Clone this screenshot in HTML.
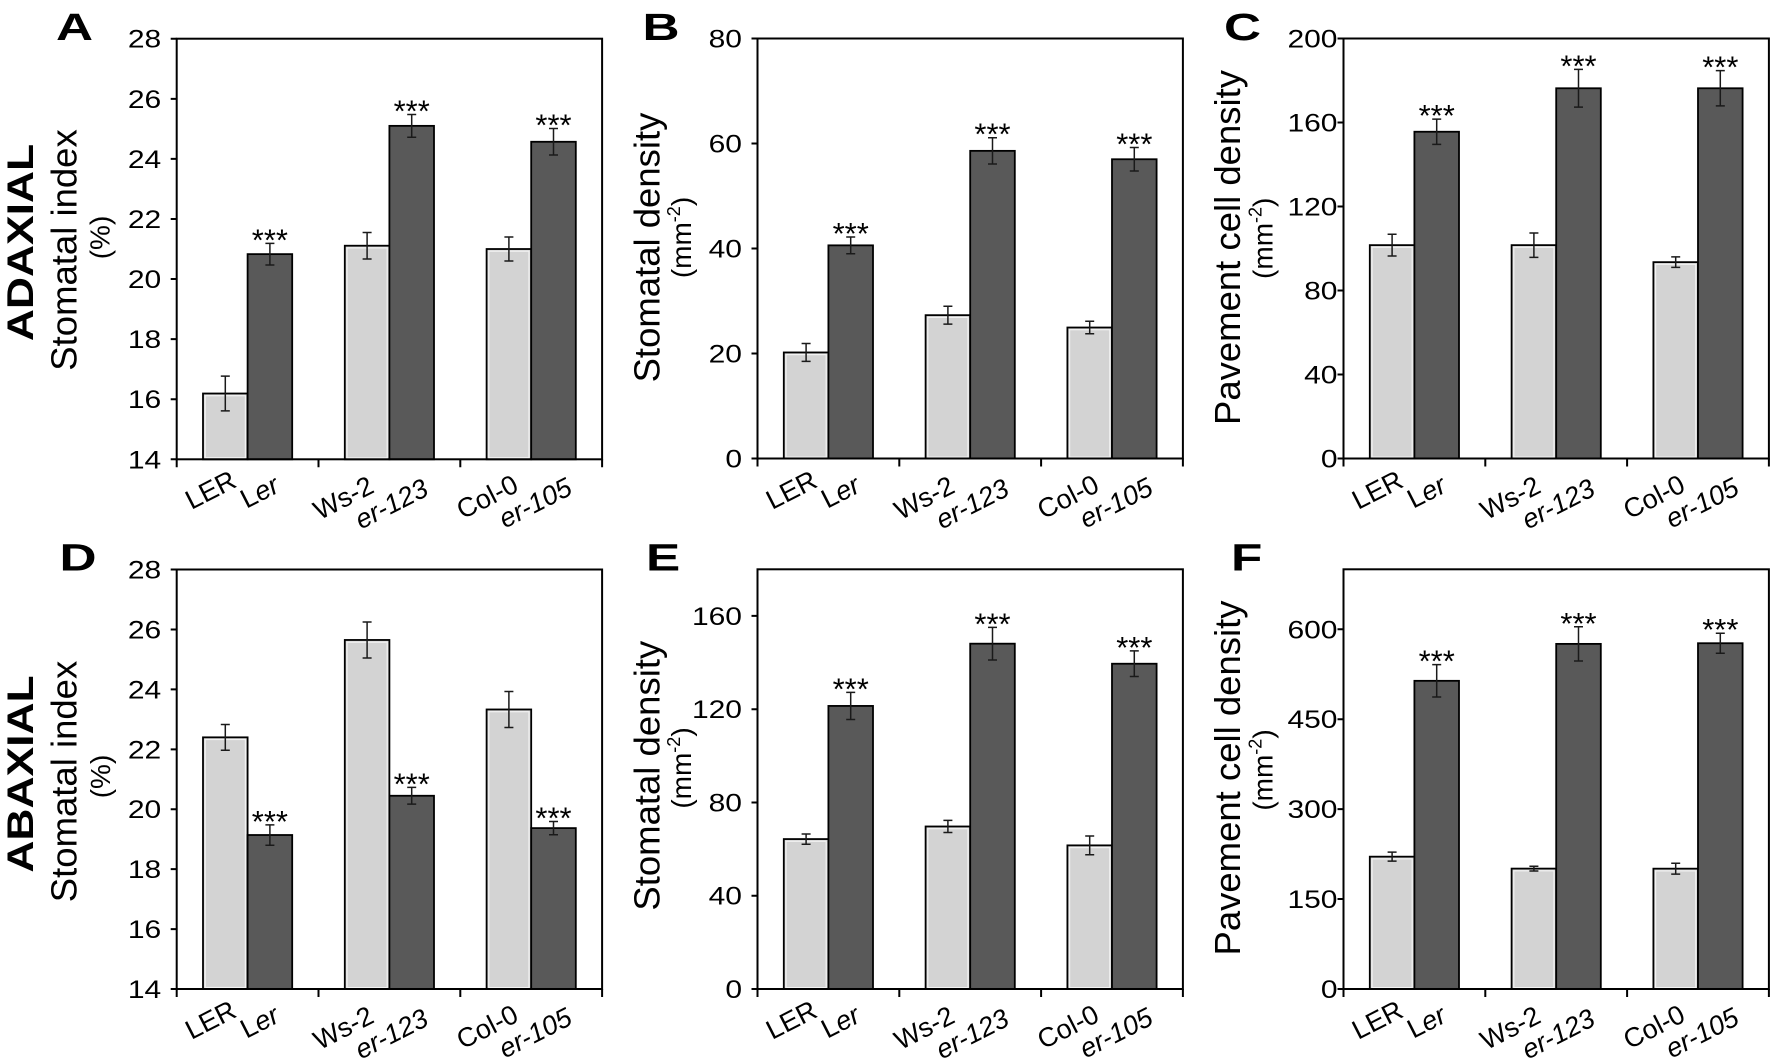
<!DOCTYPE html>
<html>
<head>
<meta charset="utf-8">
<style>
html,body{margin:0;padding:0;background:#fff;}
svg{display:block;}
text{font-family:"Liberation Sans",Arial,Helvetica,sans-serif;fill:#000;}
.tk{font-size:25px;text-anchor:end;}
.tt{font-size:36.5px;text-anchor:middle;}
.un{font-size:28px;text-anchor:middle;}
.side{font-size:37px;font-weight:bold;text-anchor:middle;}
.let{font-size:38px;font-weight:bold;}
.st{font-size:31px;text-anchor:middle;}
.xl{font-size:27px;text-anchor:middle;}
.lb{fill:#d3d3d3;stroke:#000;stroke-width:1.8;}
.db{fill:#595959;stroke:#000;stroke-width:1.8;}
.hl{fill:none;stroke:#f2f2f2;stroke-width:1.2;}
.fr{fill:none;stroke:#000;stroke-width:2;}
.ax{stroke:#000;stroke-width:2;}
.eb{stroke:#1a1a1a;stroke-width:1.5;fill:none;}
</style>
</head>
<body>
<svg width="1772" height="1059" viewBox="0 0 1772 1059" xmlns="http://www.w3.org/2000/svg">
<rect x="0" y="0" width="1772" height="1059" fill="#fff"/>

<!-- side labels -->
<text class="side" transform="translate(33,242.5) rotate(-90) scale(1.2,1)">ADAXIAL</text>
<text class="side" transform="translate(33,774) rotate(-90) scale(1.2,1)">ABAXIAL</text>

<!-- ================= PANEL A ================= -->
<g transform="translate(176.7,0)">
<text class="let" transform="translate(-120.7,40) scale(1.35,1)">A</text>
<text class="tt" transform="translate(-100.2,250) rotate(-90)">Stomatal index</text>
<text class="un" transform="translate(-67.2,237.5) rotate(-90)">(%)</text>
<rect class="lb" x="26.3" y="393.51" width="44.6" height="65.79"/>
<rect class="hl" x="28.5" y="395.7" width="40.2" height="62"/>
<rect class="db" x="70.9" y="254.13" width="44.6" height="205.17"/>
<rect class="lb" x="168.1" y="245.72" width="44.6" height="213.58"/>
<rect class="hl" x="170.3" y="247.9" width="40.2" height="210"/>
<rect class="db" x="212.7" y="125.86" width="44.6" height="333.44"/>
<rect class="lb" x="309.9" y="249.02" width="44.6" height="210.28"/>
<rect class="hl" x="312.1" y="251.2" width="40.2" height="206.5"/>
<rect class="db" x="354.5" y="141.78" width="44.6" height="317.52"/>
<rect class="fr" x="0" y="38.7" width="425.4" height="420.6"/>
<path class="ax" d="M-6,459.3H0M-6,399.22H0M-6,339.14H0M-6,279.06H0M-6,218.98H0M-6,158.9H0M-6,98.82H0M-6,38.74H0M0,459.3V467.3M141.8,459.3V467.3M283.6,459.3V467.3M425.4,459.3V467.3"/>
<path class="eb" d="M48.6,376.09V410.93M44.1,376.09H53.1M44.1,410.93H53.1
M93.2,243.32V264.94M88.7,243.32H97.7M88.7,264.94H97.7
M190.4,232.5V258.94M185.9,232.5H194.9M185.9,258.94H194.9
M235,114.44V137.28M230.5,114.44H239.5M230.5,137.28H239.5
M332.2,237V261.04M327.7,237H336.7M327.7,261.04H336.7
M376.8,128.56V155M372.3,128.56H381.3M372.3,155H381.3"/>
<text class="st" x="93.2" y="250.3">***</text>
<text class="st" x="235" y="121.4">***</text>
<text class="st" x="376.8" y="135.6">***</text>
<text class="tk" transform="translate(-15.5,468.3) scale(1.2,1)">14</text>
<text class="tk" transform="translate(-15.5,408.22) scale(1.2,1)">16</text>
<text class="tk" transform="translate(-15.5,348.14) scale(1.2,1)">18</text>
<text class="tk" transform="translate(-15.5,288.06) scale(1.2,1)">20</text>
<text class="tk" transform="translate(-15.5,227.98) scale(1.2,1)">22</text>
<text class="tk" transform="translate(-15.5,167.9) scale(1.2,1)">24</text>
<text class="tk" transform="translate(-15.5,107.82) scale(1.2,1)">26</text>
<text class="tk" transform="translate(-15.5,47.74) scale(1.2,1)">28</text>
<text class="xl" transform="translate(34,490) rotate(-27)" dy="9">LER</text>
<text class="xl" transform="translate(83,492) rotate(-27)" dy="9">L<tspan font-style="italic">er</tspan></text>
<text class="xl" transform="translate(166.8,498) rotate(-27)" dy="9">Ws-2</text>
<text class="xl" transform="translate(214.8,504) rotate(-27)" dy="9" font-style="italic">er-123</text>
<text class="xl" transform="translate(310.6,497) rotate(-27)" dy="9">Col-0</text>
<text class="xl" transform="translate(358.6,503) rotate(-27)" dy="9" font-style="italic">er-105</text>
</g>

<!-- ================= PANEL B ================= -->
<g transform="translate(757.5,0)">
<text class="let" transform="translate(-115,40) scale(1.35,1)">B</text>
<text class="tt" transform="translate(-98,247.5) rotate(-90)">Stomatal density</text>
<text class="un" transform="translate(-66.5,237.5) rotate(-90)">(mm<tspan font-size="18" dy="-11">-2</tspan><tspan dy="11">)</tspan></text>
<rect class="lb" x="26.3" y="352.45" width="44.6" height="106.05"/>
<rect class="hl" x="28.5" y="354.6" width="40.2" height="102.5"/>
<rect class="db" x="70.9" y="245.35" width="44.6" height="213.15"/>
<rect class="lb" x="168.1" y="315.17" width="44.6" height="143.33"/>
<rect class="hl" x="170.3" y="317.4" width="40.2" height="139.7"/>
<rect class="db" x="212.7" y="150.85" width="44.6" height="307.65"/>
<rect class="lb" x="309.9" y="327.51" width="44.6" height="130.99"/>
<rect class="hl" x="312.1" y="329.7" width="40.2" height="127.4"/>
<rect class="db" x="354.5" y="159.25" width="44.6" height="299.25"/>
<rect class="fr" x="0" y="38.5" width="425.4" height="420"/>
<path class="ax" d="M-6,458.5H0M-6,353.5H0M-6,248.5H0M-6,143.5H0M-6,38.5H0M0,458.5V466.5M141.8,458.5V466.5M283.6,458.5V466.5M425.4,458.5V466.5"/>
<path class="eb" d="M48.6,343.52V361.38M44.1,343.52H53.1M44.1,361.38H53.1
M93.2,236.95V253.75M88.7,236.95H97.7M88.7,253.75H97.7
M190.4,306.24V324.1M185.9,306.24H194.9M185.9,324.1H194.9
M235,137.72V163.98M230.5,137.72H239.5M230.5,163.98H239.5
M332.2,321.21V333.81M327.7,321.21H336.7M327.7,333.81H336.7
M376.8,147.44V171.06M372.3,147.44H381.3M372.3,171.06H381.3"/>
<text class="st" x="93.2" y="243.95">***</text>
<text class="st" x="235" y="144.7">***</text>
<text class="st" x="376.8" y="154.4">***</text>
<text class="tk" transform="translate(-15.5,467.5) scale(1.2,1)">0</text>
<text class="tk" transform="translate(-15.5,362.5) scale(1.2,1)">20</text>
<text class="tk" transform="translate(-15.5,257.5) scale(1.2,1)">40</text>
<text class="tk" transform="translate(-15.5,152.5) scale(1.2,1)">60</text>
<text class="tk" transform="translate(-15.5,47.5) scale(1.2,1)">80</text>
<text class="xl" transform="translate(34,490) rotate(-27)" dy="9">LER</text>
<text class="xl" transform="translate(83,492) rotate(-27)" dy="9">L<tspan font-style="italic">er</tspan></text>
<text class="xl" transform="translate(166.8,498) rotate(-27)" dy="9">Ws-2</text>
<text class="xl" transform="translate(214.8,504) rotate(-27)" dy="9" font-style="italic">er-123</text>
<text class="xl" transform="translate(310.6,497) rotate(-27)" dy="9">Col-0</text>
<text class="xl" transform="translate(358.6,503) rotate(-27)" dy="9" font-style="italic">er-105</text>
</g>

<!-- ================= PANEL C ================= -->
<g transform="translate(1343.5,0)">
<text class="let" transform="translate(-119.5,40) scale(1.35,1)">C</text>
<text class="tt" transform="translate(-103.5,247.5) rotate(-90)">Pavement cell density</text>
<text class="un" transform="translate(-71,238.3) rotate(-90)">(mm<tspan font-size="18" dy="-11">-2</tspan><tspan dy="11">)</tspan></text>
<rect class="lb" x="26.3" y="245.14" width="44.6" height="213.36"/>
<rect class="hl" x="28.5" y="247.3" width="40.2" height="209.8"/>
<rect class="db" x="70.9" y="131.74" width="44.6" height="326.76"/>
<rect class="lb" x="168.1" y="245.14" width="44.6" height="213.36"/>
<rect class="hl" x="170.3" y="247.3" width="40.2" height="209.8"/>
<rect class="db" x="212.7" y="88.27" width="44.6" height="370.23"/>
<rect class="lb" x="309.9" y="262.15" width="44.6" height="196.35"/>
<rect class="hl" x="312.1" y="264.3" width="40.2" height="192.8"/>
<rect class="db" x="354.5" y="88.27" width="44.6" height="370.23"/>
<rect class="fr" x="0" y="38.5" width="425.4" height="420"/>
<path class="ax" d="M-6,458.5H0M-6,374.5H0M-6,290.5H0M-6,206.5H0M-6,122.5H0M-6,38.5H0M0,458.5V466.5M141.8,458.5V466.5M283.6,458.5V466.5M425.4,458.5V466.5"/>
<path class="eb" d="M48.6,234.22V256.06M44.1,234.22H53.1M44.1,256.06H53.1
M93.2,119.14V144.34M88.7,119.14H97.7M88.7,144.34H97.7
M190.4,232.96V257.32M185.9,232.96H194.9M185.9,257.32H194.9
M235,69.37V107.17M230.5,69.37H239.5M230.5,107.17H239.5
M332.2,256.9V267.4M327.7,256.9H336.7M327.7,267.4H336.7
M376.8,70.63V105.91M372.3,70.63H381.3M372.3,105.91H381.3"/>
<text class="st" x="93.2" y="126.1">***</text>
<text class="st" x="235" y="76.4">***</text>
<text class="st" x="376.8" y="77.6">***</text>
<text class="tk" transform="translate(-6,467.5) scale(1.2,1)">0</text>
<text class="tk" transform="translate(-6,383.5) scale(1.2,1)">40</text>
<text class="tk" transform="translate(-6,299.5) scale(1.2,1)">80</text>
<text class="tk" transform="translate(-6,215.5) scale(1.2,1)">120</text>
<text class="tk" transform="translate(-6,131.5) scale(1.2,1)">160</text>
<text class="tk" transform="translate(-6,47.5) scale(1.2,1)">200</text>
<text class="xl" transform="translate(34,490) rotate(-27)" dy="9">LER</text>
<text class="xl" transform="translate(83,492) rotate(-27)" dy="9">L<tspan font-style="italic">er</tspan></text>
<text class="xl" transform="translate(166.8,498) rotate(-27)" dy="9">Ws-2</text>
<text class="xl" transform="translate(214.8,504) rotate(-27)" dy="9" font-style="italic">er-123</text>
<text class="xl" transform="translate(310.6,497) rotate(-27)" dy="9">Col-0</text>
<text class="xl" transform="translate(358.6,503) rotate(-27)" dy="9" font-style="italic">er-105</text>
</g>

<!-- ================= PANEL D ================= -->
<g transform="translate(176.7,0)">
<text class="let" transform="translate(-117.2,570.7) scale(1.35,1)">D</text>
<text class="tt" transform="translate(-100.2,781.5) rotate(-90)">Stomatal index</text>
<text class="un" transform="translate(-66.7,776.5) rotate(-90)">(%)</text>
<rect class="lb" x="26.3" y="737.34" width="44.6" height="251.66"/>
<rect class="hl" x="28.5" y="739.5" width="40.2" height="248"/>
<rect class="db" x="70.9" y="835.01" width="44.6" height="153.99"/>
<rect class="lb" x="168.1" y="639.97" width="44.6" height="349.03"/>
<rect class="hl" x="170.3" y="642.2" width="40.2" height="345.4"/>
<rect class="db" x="212.7" y="795.76" width="44.6" height="193.24"/>
<rect class="lb" x="309.9" y="709.47" width="44.6" height="279.53"/>
<rect class="hl" x="312.1" y="711.7" width="40.2" height="275.9"/>
<rect class="db" x="354.5" y="828.11" width="44.6" height="160.89"/>
<rect class="fr" x="0" y="569.5" width="425.4" height="419.5"/>
<path class="ax" d="M-6,989H0M-6,929.08H0M-6,869.16H0M-6,809.24H0M-6,749.32H0M-6,689.4H0M-6,629.48H0M-6,569.56H0M0,989V997M141.8,989V997M283.6,989V997M425.4,989V997"/>
<path class="eb" d="M48.6,724.46V750.22M44.1,724.46H53.1M44.1,750.22H53.1
M93.2,824.82V845.2M88.7,824.82H97.7M88.7,845.2H97.7
M190.4,621.99V657.95M185.9,621.99H194.9M185.9,657.95H194.9
M235,787.37V804.15M230.5,787.37H239.5M230.5,804.15H239.5
M332.2,691.49V727.45M327.7,691.49H336.7M327.7,727.45H336.7
M376.8,821.52V834.7M372.3,821.52H381.3M372.3,834.7H381.3"/>
<text class="st" x="93.2" y="831.8">***</text>
<text class="st" x="235" y="794.4">***</text>
<text class="st" x="376.8" y="828.5">***</text>
<text class="tk" transform="translate(-15.5,998) scale(1.2,1)">14</text>
<text class="tk" transform="translate(-15.5,938.08) scale(1.2,1)">16</text>
<text class="tk" transform="translate(-15.5,878.16) scale(1.2,1)">18</text>
<text class="tk" transform="translate(-15.5,818.24) scale(1.2,1)">20</text>
<text class="tk" transform="translate(-15.5,758.32) scale(1.2,1)">22</text>
<text class="tk" transform="translate(-15.5,698.4) scale(1.2,1)">24</text>
<text class="tk" transform="translate(-15.5,638.48) scale(1.2,1)">26</text>
<text class="tk" transform="translate(-15.5,578.56) scale(1.2,1)">28</text>
<text class="xl" transform="translate(34,1020) rotate(-27)" dy="9">LER</text>
<text class="xl" transform="translate(83,1022) rotate(-27)" dy="9">L<tspan font-style="italic">er</tspan></text>
<text class="xl" transform="translate(166.8,1028) rotate(-27)" dy="9">Ws-2</text>
<text class="xl" transform="translate(214.8,1034) rotate(-27)" dy="9" font-style="italic">er-123</text>
<text class="xl" transform="translate(310.6,1027) rotate(-27)" dy="9">Col-0</text>
<text class="xl" transform="translate(358.6,1033) rotate(-27)" dy="9" font-style="italic">er-105</text>
</g>

<!-- ================= PANEL E ================= -->
<g transform="translate(757.5,0)">
<text class="let" transform="translate(-111.5,570.7) scale(1.35,1)">E</text>
<text class="tt" transform="translate(-98,775.7) rotate(-90)">Stomatal density</text>
<text class="un" transform="translate(-66.5,768) rotate(-90)">(mm<tspan font-size="18" dy="-11">-2</tspan><tspan dy="11">)</tspan></text>
<rect class="lb" x="26.3" y="839.07" width="44.6" height="149.93"/>
<rect class="hl" x="28.5" y="841.3" width="40.2" height="146.3"/>
<rect class="db" x="70.9" y="705.93" width="44.6" height="283.07"/>
<rect class="lb" x="168.1" y="826.48" width="44.6" height="162.52"/>
<rect class="hl" x="170.3" y="828.7" width="40.2" height="158.9"/>
<rect class="db" x="212.7" y="643.68" width="44.6" height="345.32"/>
<rect class="lb" x="309.9" y="845.37" width="44.6" height="143.63"/>
<rect class="hl" x="312.1" y="847.6" width="40.2" height="140"/>
<rect class="db" x="354.5" y="663.73" width="44.6" height="325.27"/>
<rect class="fr" x="0" y="569.3" width="425.4" height="419.7"/>
<path class="ax" d="M-6,989H0M-6,895.73H0M-6,802.46H0M-6,709.2H0M-6,615.93H0M0,989V997M141.8,989V997M283.6,989V997M425.4,989V997"/>
<path class="eb" d="M48.6,833.94V844.2M44.1,833.94H53.1M44.1,844.2H53.1
M93.2,692.41V719.45M88.7,692.41H97.7M88.7,719.45H97.7
M190.4,820.42V832.54M185.9,820.42H194.9M185.9,832.54H194.9
M235,627.36V660M230.5,627.36H239.5M230.5,660H239.5
M332.2,836.04V854.7M327.7,836.04H336.7M327.7,854.7H336.7
M376.8,650.91V676.55M372.3,650.91H381.3M372.3,676.55H381.3"/>
<text class="st" x="93.2" y="699.4">***</text>
<text class="st" x="235" y="634.4">***</text>
<text class="st" x="376.8" y="657.9">***</text>
<text class="tk" transform="translate(-15.5,998) scale(1.2,1)">0</text>
<text class="tk" transform="translate(-15.5,904.73) scale(1.2,1)">40</text>
<text class="tk" transform="translate(-15.5,811.46) scale(1.2,1)">80</text>
<text class="tk" transform="translate(-15.5,718.2) scale(1.2,1)">120</text>
<text class="tk" transform="translate(-15.5,624.93) scale(1.2,1)">160</text>
<text class="xl" transform="translate(34,1020) rotate(-27)" dy="9">LER</text>
<text class="xl" transform="translate(83,1022) rotate(-27)" dy="9">L<tspan font-style="italic">er</tspan></text>
<text class="xl" transform="translate(166.8,1028) rotate(-27)" dy="9">Ws-2</text>
<text class="xl" transform="translate(214.8,1034) rotate(-27)" dy="9" font-style="italic">er-123</text>
<text class="xl" transform="translate(310.6,1027) rotate(-27)" dy="9">Col-0</text>
<text class="xl" transform="translate(358.6,1033) rotate(-27)" dy="9" font-style="italic">er-105</text>
</g>

<!-- ================= PANEL F ================= -->
<g transform="translate(1343.5,0)">
<text class="let" transform="translate(-112.5,570.7) scale(1.35,1)">F</text>
<text class="tt" transform="translate(-103.5,778) rotate(-90)">Pavement cell density</text>
<text class="un" transform="translate(-71,770) rotate(-90)">(mm<tspan font-size="18" dy="-11">-2</tspan><tspan dy="11">)</tspan></text>
<rect class="lb" x="26.3" y="856.67" width="44.6" height="132.33"/>
<rect class="hl" x="28.5" y="858.9" width="40.2" height="128.7"/>
<rect class="db" x="70.9" y="680.82" width="44.6" height="308.18"/>
<rect class="lb" x="168.1" y="868.61" width="44.6" height="120.39"/>
<rect class="hl" x="170.3" y="870.8" width="40.2" height="116.8"/>
<rect class="db" x="212.7" y="643.89" width="44.6" height="345.11"/>
<rect class="lb" x="309.9" y="868.67" width="44.6" height="120.33"/>
<rect class="hl" x="312.1" y="870.9" width="40.2" height="116.7"/>
<rect class="db" x="354.5" y="643.23" width="44.6" height="345.77"/>
<rect class="fr" x="0" y="569.3" width="425.4" height="419.7"/>
<path class="ax" d="M-6,989H0M-6,899.06H0M-6,809.13H0M-6,719.19H0M-6,629.26H0M0,989V997M141.8,989V997M283.6,989V997M425.4,989V997"/>
<path class="eb" d="M48.6,852.17V861.17M44.1,852.17H53.1M44.1,861.17H53.1
M93.2,664.63V697.01M88.7,664.63H97.7M88.7,697.01H97.7
M190.4,866.21V871.01M185.9,866.21H194.9M185.9,871.01H194.9
M235,626.8V660.98M230.5,626.8H239.5M230.5,660.98H239.5
M332.2,863.27V874.07M327.7,863.27H336.7M327.7,874.07H336.7
M376.8,633.22V653.24M372.3,633.22H381.3M372.3,653.24H381.3"/>
<text class="st" x="93.2" y="671.6">***</text>
<text class="st" x="235" y="633.8">***</text>
<text class="st" x="376.8" y="640.2">***</text>
<text class="tk" transform="translate(-6,998) scale(1.2,1)">0</text>
<text class="tk" transform="translate(-6,908.06) scale(1.2,1)">150</text>
<text class="tk" transform="translate(-6,818.13) scale(1.2,1)">300</text>
<text class="tk" transform="translate(-6,728.19) scale(1.2,1)">450</text>
<text class="tk" transform="translate(-6,638.26) scale(1.2,1)">600</text>
<text class="xl" transform="translate(34,1020) rotate(-27)" dy="9">LER</text>
<text class="xl" transform="translate(83,1022) rotate(-27)" dy="9">L<tspan font-style="italic">er</tspan></text>
<text class="xl" transform="translate(166.8,1028) rotate(-27)" dy="9">Ws-2</text>
<text class="xl" transform="translate(214.8,1034) rotate(-27)" dy="9" font-style="italic">er-123</text>
<text class="xl" transform="translate(310.6,1027) rotate(-27)" dy="9">Col-0</text>
<text class="xl" transform="translate(358.6,1033) rotate(-27)" dy="9" font-style="italic">er-105</text>
</g>
</svg>
</body>
</html>
